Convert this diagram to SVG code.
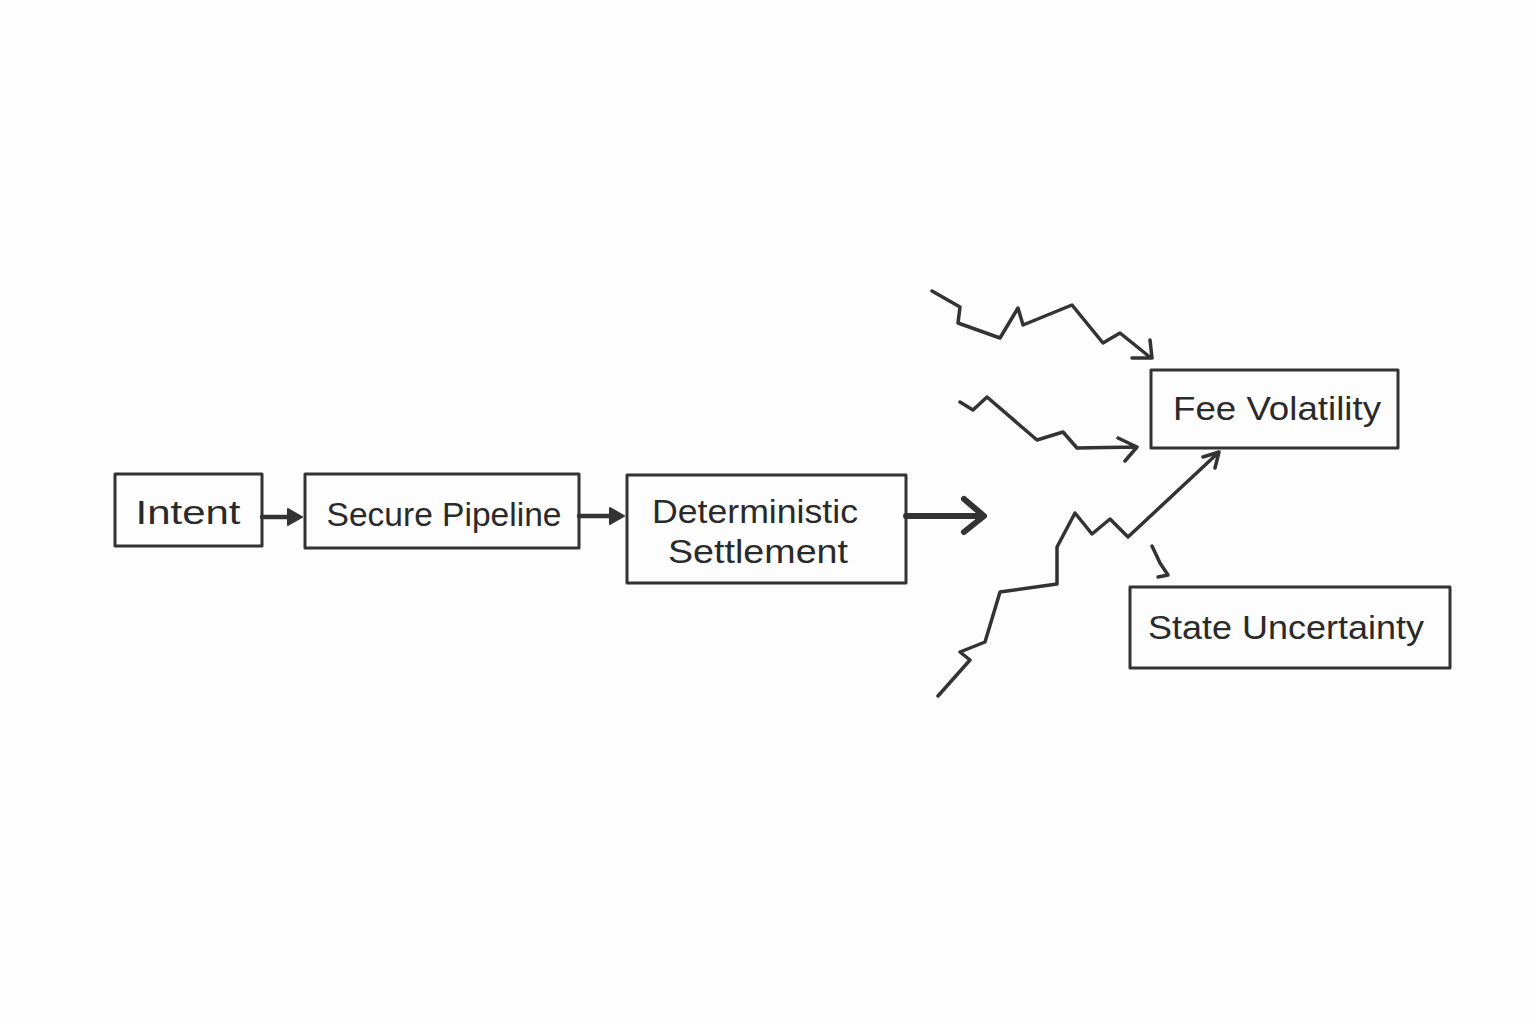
<svg xmlns="http://www.w3.org/2000/svg" width="1536" height="1024" viewBox="0 0 1536 1024">
<style>
.box{fill:none;stroke:#333;stroke-width:3;stroke-linejoin:round}
.lbl{font-family:"Liberation Sans",Arial,sans-serif;font-size:34px;fill:#2a2a2a;text-anchor:middle}
.ln{fill:none;stroke:#333;stroke-width:3.5;stroke-linecap:round;stroke-linejoin:round}
.mid{fill:none;stroke:#333;stroke-width:4.5;stroke-linecap:round;stroke-linejoin:round}
.thick{fill:none;stroke:#333;stroke-width:6;stroke-linecap:round;stroke-linejoin:round}
</style>
<rect width="1536" height="1024" fill="#fdfdfd"/>
<g id="connectors">
<path class="mid" d="M262,517 L296,517"/>
<path d="M288,509 L302,517 L288,525 Z" fill="#333" stroke="#333" stroke-width="2" stroke-linejoin="round"/>
<path class="mid" d="M579,516 L618,516"/>
<path d="M610,508 L624,516 L610,524 Z" fill="#333" stroke="#333" stroke-width="2" stroke-linejoin="round"/>
<path class="thick" d="M906,516 L982,516 M964,499 L984,516 L964,532"/>
<path class="ln" d="M932,291 L960,307 L958,323 L1000,338 L1018,308 L1023,325 L1072,305 L1103,343 L1120,333 L1151,358 M1150,340 L1152,358 L1132,358"/>
<path class="ln" d="M960,402 L973,410 L987,397 L1037,440 L1063,432 L1077,448 L1136,447 M1118,438 L1137,447 L1125,461"/>
<path class="ln" d="M938,696 L970,660 L960,652 L985,642 L1000,592 L1057,584 L1057,547 L1075,513 L1092,534 L1110,519 L1128,537 L1218,453 M1203,457 L1219,452 L1215,468"/>
<path class="ln" d="M1152,546 L1160,563 L1168,575 L1158,577"/>
</g>
<g id="intent">
<rect class="box" x="115" y="474" width="147" height="72"/>
<text class="lbl" x="188" y="524" textLength="105" lengthAdjust="spacingAndGlyphs">Intent</text>
</g>
<g id="secure-pipeline">
<rect class="box" x="305" y="474" width="274" height="74"/>
<text class="lbl" x="444" y="526" textLength="235" lengthAdjust="spacingAndGlyphs">Secure Pipeline</text>
</g>
<g id="deterministic-settlement">
<rect class="box" x="627" y="475" width="279" height="108"/>
<text class="lbl" x="755" y="523" textLength="206" lengthAdjust="spacingAndGlyphs">Deterministic</text>
<text class="lbl" x="758" y="563" textLength="180" lengthAdjust="spacingAndGlyphs">Settlement</text>
</g>
<g id="fee-volatility">
<rect class="box" x="1151" y="370" width="247" height="78"/>
<text class="lbl" x="1277" y="420" textLength="208" lengthAdjust="spacingAndGlyphs">Fee Volatility</text>
</g>
<g id="state-uncertainty">
<rect class="box" x="1130" y="587" width="320" height="81"/>
<text class="lbl" x="1286" y="639" textLength="276" lengthAdjust="spacingAndGlyphs">State Uncertainty</text>
</g>
</svg>
